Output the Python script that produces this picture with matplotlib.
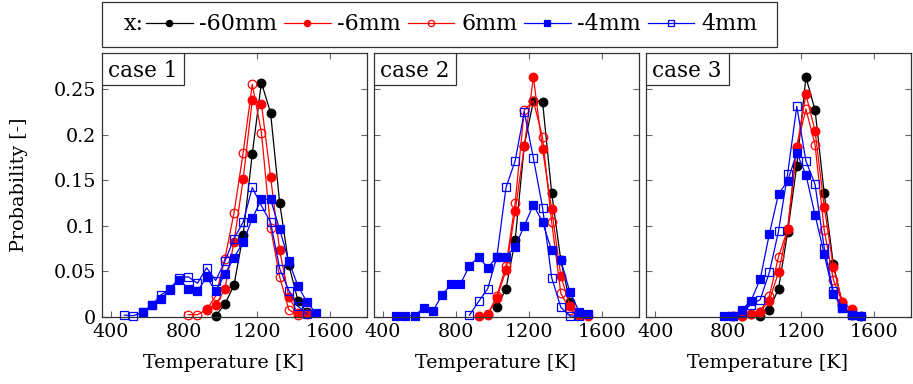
import numpy as np
import matplotlib
matplotlib.use('Agg')
import matplotlib.pyplot as plt
from matplotlib.patches import Rectangle

plt.rcParams['font.family'] = ['DejaVu Serif']
plt.rcParams['font.size'] = 13.8

# temperature bins [K]
bins = [475, 525, 575, 625, 675, 725, 775, 825, 875, 925, 975,
        1025, 1075, 1125, 1175, 1225, 1275, 1325, 1375, 1425, 1475, 1525]
N = None

# case 1
c1_m60 = [N, N, N, N, N, N, N, N, N, N, 0.0015,
          0.014, 0.035, 0.090, 0.179, 0.257, 0.224, 0.125, 0.057, 0.018, 0.005, N]
c1_m6 = [N, N, N, N, N, N, N, N, N, 0.009, 0.013,
         0.031, 0.082, 0.151, 0.238, 0.234, 0.154, 0.073, 0.022, 0.004, 0.003, N]
c1_p6 = [N, N, N, N, N, N, N, 0.0025, 0.0025, 0.008, 0.023,
         0.064, 0.114, 0.180, 0.255, 0.202, 0.098, 0.044, 0.008, 0.002, N, N]
c1_m4 = [N, N, 0.005, 0.013, 0.020, 0.030, 0.041, 0.031, 0.028, 0.044, 0.028,
         0.047, 0.065, 0.082, 0.108, 0.129, 0.129, 0.096, 0.061, 0.034, 0.016, 0.004]
c1_p4 = [0.002, 0.0015, 0.005, 0.013, 0.024, 0.031, 0.043, 0.044, 0.037, 0.054, 0.040,
         0.061, 0.086, 0.104, 0.142, 0.122, 0.104, 0.053, 0.029, 0.012, 0.003, N]

# case 2
c2_m60 = [N, N, N, N, N, N, N, N, N, N, N,
          0.011, 0.031, 0.084, 0.188, 0.237, 0.236, 0.136, 0.062, 0.016, 0.003, N]
c2_m6 = [N, N, N, N, N, N, N, N, N, 0.0007, 0.0026,
         0.021, 0.051, 0.116, 0.187, 0.263, 0.184, 0.118, 0.045, 0.012, 0.0026, 0.0007]
c2_p6 = [N, N, N, N, N, N, N, N, N, N, 0.003,
         0.023, 0.056, 0.125, 0.227, 0.237, 0.197, 0.104, 0.026, 0.008, 0.002, N]
c2_m4 = [0.001, 0.0015, 0.0015, 0.010, 0.0065, 0.024, 0.036, 0.036, 0.056, 0.066, 0.054,
         0.066, 0.066, 0.077, 0.100, 0.123, 0.104, 0.073, 0.062, 0.027, 0.006, 0.003]
c2_p4 = [N, N, N, N, N, N, N, N, 0.002, 0.017, 0.031,
         0.066, 0.142, 0.171, 0.225, 0.174, 0.120, 0.043, 0.0106, 0.001, 0.001, N]

# case 3
c3_m60 = [N, N, N, N, N, N, N, N, N, N, 0.0007,
          0.008, 0.031, 0.093, 0.166, 0.263, 0.227, 0.136, 0.058, 0.013, 0.002, 0.0007]
c3_m6 = [N, N, N, N, N, N, N, 0.0007, 0.0014, 0.0035, 0.006,
         0.018, 0.049, 0.097, 0.186, 0.244, 0.204, 0.121, 0.055, 0.016, 0.0075, N]
c3_p6 = [N, N, N, N, N, N, N, N, 0.001, 0.003, 0.006,
         0.023, 0.066, 0.096, 0.186, 0.228, 0.189, 0.0955, 0.041, 0.016, 0.0085, N]
c3_m4 = [N, N, N, N, N, N, 0.0007, 0.0007, 0.008, 0.018, 0.0416,
         0.091, 0.135, 0.149, 0.180, 0.156, 0.112, 0.069, 0.025, 0.0098, 0.0024, 0.0014]
c3_p4 = [N, N, N, N, N, N, N, 0.001, 0.006, 0.0135, 0.019,
         0.049, 0.094, 0.157, 0.231, 0.171, 0.1455, 0.076, 0.028, 0.0099, 0.0018, N]

cases = ['case 1', 'case 2', 'case 3']
series_labels = ['-60mm', '-6mm', '6mm', '-4mm', '4mm']
case_data = [
    [c1_m60, c1_m6, c1_p6, c1_m4, c1_p4],
    [c2_m60, c2_m6, c2_p6, c2_m4, c2_p4],
    [c3_m60, c3_m6, c3_p6, c3_m4, c3_p4],
]
x_ticks = [400, 800, 1200, 1600]
y_ticks = [0, 0.05, 0.1, 0.15, 0.2, 0.25]
y_ticklabels = ['0', '0.05', '0.1', '0.15', '0.2', '0.25']

styles = [
    dict(color='black', marker='o', mfc='black', ms=6.2),
    dict(color='red', marker='o', mfc='red', ms=6.2),
    dict(color='red', marker='o', mfc='none', ms=6.2),
    dict(color='blue', marker='s', mfc='blue', ms=5.4),
    dict(color='blue', marker='s', mfc='none', ms=5.4),
]

W, H = 913, 384
fig = plt.figure(figsize=(W / 100, H / 100), dpi=100)

lefts = [101.5, 373.5, 646]
width, top, bottom = 265, 52.5, 317
box_w, box_h = 82.5 / width, 32.5 / (bottom - top)

for i, (case, data) in enumerate(zip(cases, case_data)):
    ax = fig.add_axes([lefts[i] / W, 1 - bottom / H, width / W, (bottom - top) / H])
    for vals, st in zip(data, styles):
        y = np.array([np.nan if v is None else v for v in vals], dtype=float)
        ax.plot(bins, y, lw=0.9, mew=0.9, clip_on=False, **st)
    ax.set_xlim(350, 1800)
    ax.set_ylim(0, 0.29)
    ax.set_xticks(x_ticks)
    ax.set_yticks(y_ticks)
    if i == 0:
        ax.set_yticklabels(y_ticklabels)
        ax.set_ylabel('Probability [-]', labelpad=18)
    else:
        ax.set_yticklabels([])
    ax.tick_params(direction='in', top=True, right=True, length=4,
                   color='#666666', width=0.8, pad=4)
    for sp in ax.spines.values():
        sp.set_linewidth(0.9)
        sp.set_color('#333333')
    ax.set_xlabel('Temperature [K]')
    ax.xaxis.set_label_coords(0.46, -0.14)
    ax.add_patch(Rectangle((0, 1 - box_h), box_w, box_h, transform=ax.transAxes,
                           fc='white', ec='#333333', lw=0.9, zorder=5))
    ax.text(box_w / 2, 1 - box_h / 2, case, transform=ax.transAxes,
            ha='center', va='center_baseline', fontsize=15.5, zorder=6)

# legend box
fig.patches.append(Rectangle((102 / W, 1 - 47 / H), 675 / W, 45 / H,
                             transform=fig.transFigure, fill=False,
                             ec='#333333', lw=0.9))
fig.text(124 / W, 1 - 24.5 / H, 'x:', ha='left', va='center', fontsize=16)
leg_handles = []
for st in styles:
    s = dict(st)
    s['ms'] = 4.5 if s['marker'] == 'o' else 4.2
    leg_handles.append(plt.Line2D([], [], lw=0.9, mew=0.9, **s))
fig.legend(leg_handles, series_labels, loc='center left',
           bbox_to_anchor=(146 / W, 1 - 24.5 / H), ncol=5, frameon=False,
           fontsize=16, handlelength=2.1, handletextpad=0.3, columnspacing=0.3,
           borderaxespad=0, borderpad=0.0)

fig.savefig('out.png', dpi=100)
